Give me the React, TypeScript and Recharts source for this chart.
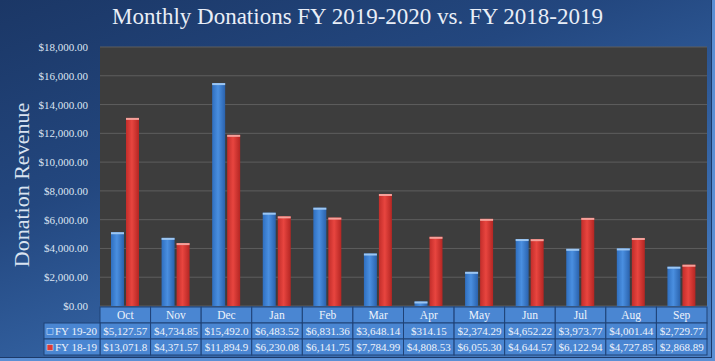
import { BarChart, Bar, XAxis, YAxis, CartesianGrid } from 'recharts';

const months = ['Oct', 'Nov', 'Dec', 'Jan', 'Feb', 'Mar', 'Apr', 'May', 'Jun', 'Jul', 'Aug', 'Sep'];
const fy1920 = [5127.57, 4734.85, 15492.0, 6483.52, 6831.36, 3648.14, 314.15, 2374.29, 4652.22, 3973.77, 4001.44, 2729.77];
const fy1819 = [13071.8, 4371.57, 11894.9, 6230.08, 6141.75, 7784.99, 4808.53, 6055.3, 4644.57, 6122.94, 4727.85, 2868.89];
const seriesNames = ['FY 19-20', 'FY 18-19'];
const yTicks = [0, 2000, 4000, 6000, 8000, 10000, 12000, 14000, 16000, 18000];

const data = months.map((m, i) => ({ month: m, a: fy1920[i], b: fy1819[i] }));

const W = 715;
const H = 361;
const PLOT_LEFT = 100;
const PLOT_RIGHT = 8;
const CELL_W = (W - PLOT_LEFT - PLOT_RIGHT) / months.length;
const ROW_H = 16;
const SERIF = '"Liberation Serif", "DejaVu Serif", serif';
const CELL_FILL = '#4a86d2';
const CELL_LINE = '#1f4277';
const TEXT = '#eef3fb';

const dollars = (v: number) =>
  '$' + v.toLocaleString('en-US', { minimumFractionDigits: 2, maximumFractionDigits: 2 });
// the table cells cut long values to 9 characters
const cellText = (v: number) => dollars(v).slice(0, 9);

const BarShape = (props: any) => {
  const { x, y, width, height, gradient, cap } = props;
  if (height <= 0) return null;
  return (
    <g>
      <rect x={x} y={y} width={width} height={height} fill={`url(#${gradient})`} />
      <rect x={x} y={y} width={width} height={Math.min(2, height)} fill={cap} />
    </g>
  );
};

const YTick = (props: any) => {
  const { x, y, payload } = props;
  return (
    <text x={x} y={y + 4} textAnchor="end" fill="#dde5f2" fontSize={11} fontFamily={SERIF}>
      {dollars(payload.value)}
    </text>
  );
};

const TableTick = (props: any) => {
  const { x, y, payload } = props;
  const i = payload.index;
  const left = x - CELL_W / 2;
  const rows = [cellText(fy1920[i]), cellText(fy1819[i])];
  return (
    <g>
      <rect x={left} y={y} width={CELL_W} height={ROW_H} fill={CELL_FILL} stroke={CELL_LINE} strokeWidth={1} />
      <text x={x} y={y + 12} textAnchor="middle" fill={TEXT} fontSize={11.5} fontFamily={SERIF}>
        {payload.value}
      </text>
      {rows.map((r, k) => (
        <g key={k}>
          <rect x={left} y={y + ROW_H * (k + 1)} width={CELL_W} height={ROW_H} fill={CELL_FILL} stroke={CELL_LINE} strokeWidth={1} />
          <text x={x} y={y + ROW_H * (k + 1) + 12} textAnchor="middle" fill={TEXT} fontSize={11} fontFamily={SERIF}>
            {r}
          </text>
        </g>
      ))}
      {i === 0 &&
        seriesNames.map((n, k) => (
          <g key={n}>
            <rect x={left - 56} y={y + ROW_H * (k + 1)} width={56} height={ROW_H} fill={CELL_FILL} stroke={CELL_LINE} strokeWidth={1} />
            <rect x={left - 53} y={y + ROW_H * (k + 1) + 5.5} width={6} height={6} fill={k === 0 ? '#3f86dc' : '#dd3a36'} stroke="#cfe0f5" strokeWidth={0.6} />
            <text x={left - 45} y={y + ROW_H * (k + 1) + 12} fill={TEXT} fontSize={11} fontFamily={SERIF}>
              {n}
            </text>
          </g>
        ))}
    </g>
  );
};

export default function App() {
  return (
    <div
      style={{
        position: 'absolute',
        left: 0,
        top: 0,
        width: W,
        height: H,
        background: 'linear-gradient(160deg, #1b3766 0%, #23477f 35%, #3a6db0 75%, #4f86cc 100%)',
        boxShadow: 'inset -3px -3px 0 #5b8fd4, inset -4px -4px 0 #1c3a6a',
      }}
    >
      <div
        style={{
          position: 'absolute',
          top: 4,
          left: 0,
          width: W,
          textAlign: 'center',
          color: '#e9eef7',
          fontFamily: SERIF,
          fontSize: 23,
        }}
      >
        Monthly Donations FY 2019-2020 vs. FY 2018-2019
      </div>
      <div
        style={{
          position: 'absolute',
          left: 22,
          top: 185,
          transform: 'translate(-50%, -50%) rotate(-90deg)',
          whiteSpace: 'nowrap',
          color: '#d9e2f0',
          fontFamily: SERIF,
          fontSize: 22,
        }}
      >
        Donation Revenue
      </div>
      <BarChart
        width={W}
        height={H}
        data={data}
        margin={{ top: 47, right: PLOT_RIGHT, bottom: 0, left: 10 }}
        barSize={13}
        barGap={2}
        style={{ position: 'absolute', left: 0, top: 0 }}
      >
        <defs>
          <linearGradient id="gBlue" x1="0" y1="0" x2="1" y2="0">
            <stop offset="0%" stopColor="#2f6fc0" />
            <stop offset="45%" stopColor="#4a8fe0" />
            <stop offset="100%" stopColor="#2a62ad" />
          </linearGradient>
          <linearGradient id="gRed" x1="0" y1="0" x2="1" y2="0">
            <stop offset="0%" stopColor="#c22d2a" />
            <stop offset="45%" stopColor="#e8453f" />
            <stop offset="100%" stopColor="#b42623" />
          </linearGradient>
        </defs>
        <CartesianGrid vertical={false} stroke="#5e5e5e" fill="#3d3d3d" />
        <XAxis
          dataKey="month"
          height={55}
          axisLine={false}
          tickLine={false}
          tickSize={0}
          tickMargin={1}
          interval={0}
          tick={<TableTick />}
        />
        <YAxis
          width={90}
          domain={[0, 18000]}
          ticks={yTicks}
          interval={0}
          axisLine={false}
          tickLine={false}
          tickSize={0}
          tickMargin={12}
          tick={<YTick />}
        />
        <Bar dataKey="a" name={seriesNames[0]} isAnimationActive={false} shape={<BarShape gradient="gBlue" cap="#9cc6f2" />} />
        <Bar dataKey="b" name={seriesNames[1]} isAnimationActive={false} shape={<BarShape gradient="gRed" cap="#f5a09a" />} />
      </BarChart>
    </div>
  );
}
